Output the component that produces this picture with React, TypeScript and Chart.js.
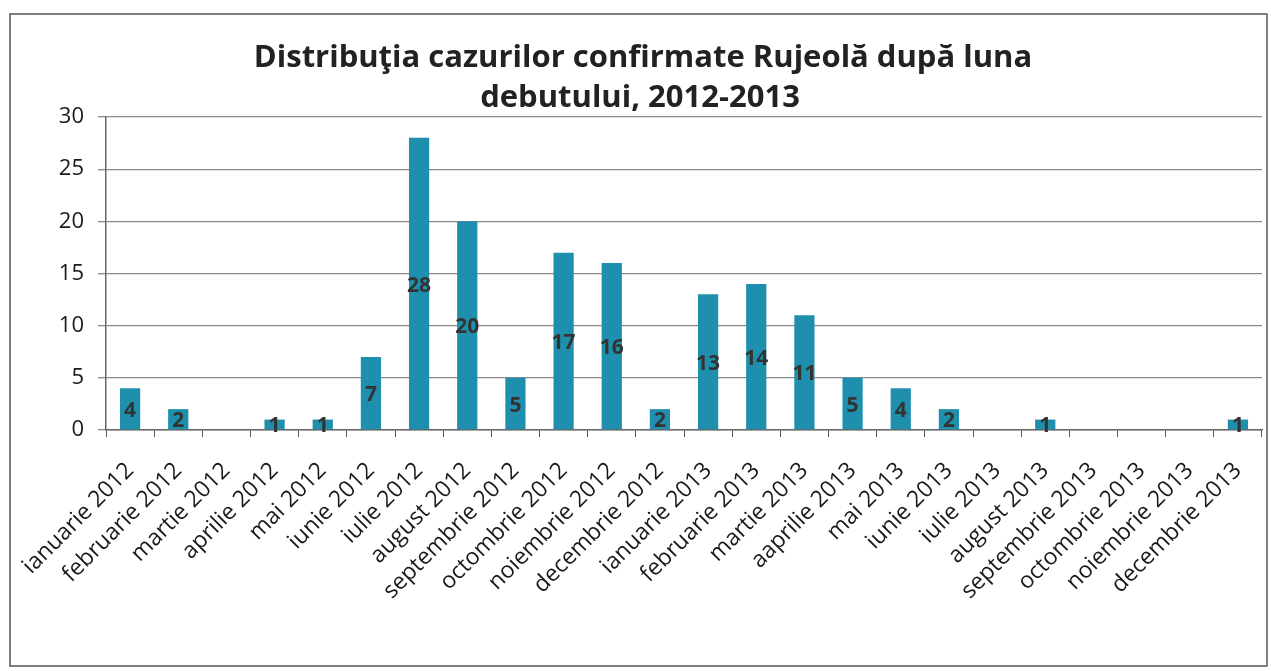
import React, { useEffect, useRef } from "react";
import { Chart, registerables } from "chart.js";

Chart.register(...registerables);

const categories = [
  "ianuarie 2012", "februarie 2012", "martie 2012", "aprilie 2012", "mai 2012", "iunie 2012",
  "iulie 2012", "august 2012", "septembrie 2012", "octombrie 2012", "noiembrie 2012", "decembrie 2012",
  "ianuarie 2013", "februarie 2013", "martie 2013", "aaprilie 2013", "mai 2013", "iunie 2013",
  "iulie 2013", "august 2013", "septembrie 2013", "octombrie 2013", "noiembrie 2013", "decembrie 2013",
];
const cases = [4, 2, 0, 1, 1, 7, 28, 20, 5, 17, 16, 2, 13, 14, 11, 5, 4, 2, 0, 1, 0, 0, 0, 1];
const titleLines = ["Distribuţia cazurilor confirmate Rujeolă după luna", "debutului, 2012-2013"];
const yTicks = [0, 5, 10, 15, 20, 25, 30];

const FONT = "'Open Sans', Lato, sans-serif";

const framePlugin = {
  id: "frame",
  beforeDraw(chart: any) {
    const ctx = chart.ctx;
    ctx.save();
    ctx.fillStyle = "#ffffff";
    ctx.fillRect(0, 0, chart.width, chart.height);
    ctx.strokeStyle = "#555";
    ctx.lineWidth = 1.5;
    ctx.strokeRect(10, 14, 1257, 652);
    ctx.restore();
  },
};

const labelPlugin = {
  id: "midLabels",
  afterDatasetsDraw(chart: any) {
    const ctx = chart.ctx;
    const meta = chart.getDatasetMeta(0);
    ctx.save();
    ctx.font = `bold 21px ${FONT}`;
    ctx.fillStyle = "#333";
    ctx.textAlign = "center";
    ctx.textBaseline = "middle";
    meta.data.forEach((bar: any, i: number) => {
      const v = cases[i];
      if (!v) return;
      const y = (bar.y + bar.base) / 2;
      ctx.fillText(String(v), bar.x, y + 2);
    });
    ctx.restore();
  },
};

const titlePlugin = {
  id: "overlayTitle",
  afterDraw(chart: any) {
    const ctx = chart.ctx;
    ctx.save();
    ctx.font = `bold 28px ${FONT}`;
    const w = ctx.measureText(titleLines[0]).width;
    const size = Math.round((28 * 777) / w);
    ctx.font = `bold ${size}px ${FONT}`;
    ctx.fillStyle = "#222";
    ctx.textAlign = "center";
    ctx.textBaseline = "alphabetic";
    ctx.fillText(titleLines[0], 643, 67);
    ctx.fillText(titleLines[1], 640, 107);
    ctx.restore();
  },
};

export default function App() {
  const ref = useRef<HTMLCanvasElement | null>(null);
  useEffect(() => {
    if (!ref.current) return;
    const chart = new Chart(ref.current, {
      type: "bar",
      data: {
        labels: categories,
        datasets: [
          {
            data: cases,
            backgroundColor: "#1e8fad",
            borderWidth: 0,
            barPercentage: 0.42,
            categoryPercentage: 1,
          },
        ],
      },
      options: {
        animation: false,
        responsive: false,
        maintainAspectRatio: false,
        layout: { padding: { top: 117, right: 9, left: 0, bottom: 0 } },
        plugins: { legend: { display: false }, title: { display: false }, tooltip: { enabled: false } },
        scales: {
          x: {
            offset: true,
            grid: { display: true, drawOnChartArea: false, offset: true, tickLength: 7, color: "#555" },
            border: { color: "#666", width: 1.5 },
            ticks: {
              autoSkip: false,
              minRotation: 45,
              maxRotation: 45,
              color: "#1a1a1a",
              padding: 20,
              font: { family: FONT, size: 23 },
            },
            afterFit(scale: any) {
              scale.height = 241;
              scale.paddingLeft = 0;
              scale.paddingRight = 0;
            },
          },
          y: {
            min: 0,
            max: 30,
            afterBuildTicks(scale: any) {
              scale.ticks = yTicks.map((v) => ({ value: v }));
            },
            grid: { color: "#8a8a8a", tickLength: 8, lineWidth: 1.3 },
            border: { color: "#666", width: 1.5 },
            ticks: { color: "#1a1a1a", padding: 14, font: { family: FONT, size: 22 } },
            afterFit(scale: any) {
              scale.width = 106;
              scale.paddingTop = 0;
              scale.paddingBottom = 0;
            },
          },
        },
      },
      plugins: [framePlugin, labelPlugin, titlePlugin],
    });
    return () => chart.destroy();
  }, []);
  return (
    <canvas
      ref={ref}
      width={1271}
      height={671}
      style={{ display: "block", position: "fixed", left: 0, top: 0 }}
    />
  );
}
